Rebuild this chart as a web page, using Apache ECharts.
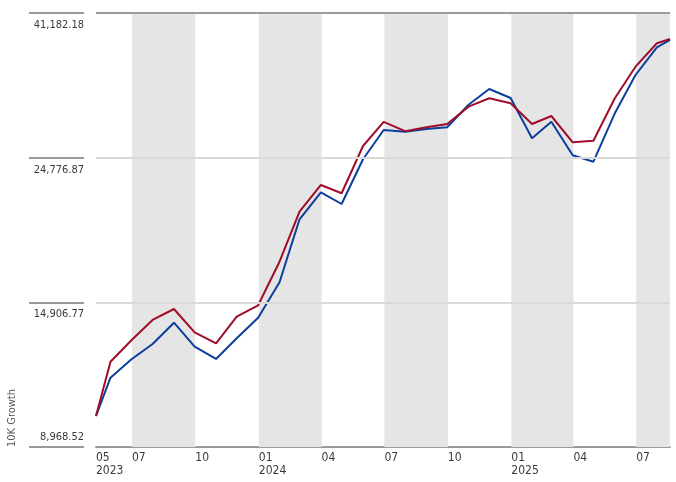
<!DOCTYPE html>
<html>
<head>
<meta charset="utf-8">
<script src="https://cdn.jsdelivr.net/npm/echarts@6/dist/echarts.min.js"></script>
<style>
html,body{margin:0;padding:0;background:#fff;}
#c{width:676px;height:482px;}
</style>
</head>
<body>
<div id="c"></div>
<script>
// ---- data ----
var dates = ['2023-05-10','2023-05-31','2023-06-30','2023-07-31','2023-08-31','2023-09-30','2023-10-31','2023-11-30','2023-12-31',
  '2024-01-31','2024-02-29','2024-03-31','2024-04-30','2024-05-31','2024-06-30','2024-07-31','2024-08-31','2024-09-30','2024-10-31','2024-11-30','2024-12-31',
  '2025-01-31','2025-02-28','2025-03-31','2025-04-30','2025-05-31','2025-06-30','2025-07-31','2025-08-19'];
var fundValues = [10000,12101,13036,14011,14562,13418,12909,14173,14752,17194,20495,22510,21864,25814,28104,27192,27567,27886,29635,30522,29991,27886,28681,26152,26299,30522,34104,37025,37589];
var indexValues = [10000,11440,12195,12878,13878,12756,12217,13138,14124,15994,19955,21940,21056,24636,27306,27143,27402,27567,29842,31535,30555,26522,28113,24984,24428,28955,33123,36507,37458];
var yTickValues = [8968.52, 14906.77, 24776.87, 41182.18];
var yTickLabels = ['8,968.52', '14,906.77', '24,776.87', '41,182.18'];
var xTickDates = ['2023-05-10','2023-07-01','2023-10-01','2024-01-01','2024-04-01','2024-07-01','2024-10-01','2025-01-01','2025-04-01','2025-07-01'];
var xTickLabels = ['05\n2023','07','10','01\n2024','04','07','10','01\n2025','04','07'];
var shadedRanges = [['2023-07-01','2023-10-01'],['2024-01-01','2024-04-01'],['2024-07-01','2024-10-01'],['2025-01-01','2025-04-01'],['2025-07-01','2025-08-19']];
var xMin = '2023-05-10', xMax = '2025-08-19';

var FONT = "'Liberation Sans Narrow','DejaVu Sans Condensed','Roboto',sans-serif";

function ts(s){ var p = s.split('-'); return Date.UTC(+p[0], +p[1]-1, +p[2]); }
var xTickTs = xTickDates.map(ts);

function zip(d, v){ return d.map(function(x,i){ return [ts(x), v[i]]; }); }

var chart = echarts.init(document.getElementById('c'), null, {renderer:'canvas'});
chart.setOption({
  animation:false,
  backgroundColor:'#fff',
  grid:{left:96, right:6, top:13, bottom:35, containLabel:false, outerBoundsMode:'none'},
  xAxis:{
    type:'value', min:ts(xMin), max:ts(xMax), scale:true,
    axisLine:{show:true, onZero:false, lineStyle:{color:'#9b9b9b', width:2}},
    axisTick:{show:false},
    splitLine:{show:false},
    axisLabel:{
      customValues:xTickTs,
      align:'left', margin:4, lineHeight:13,
      fontFamily:FONT, fontSize:12, color:'#3a3a3a',
      formatter:function(v){
        var i = xTickTs.indexOf(v);
        if (i < 0) { var bd=Infinity; for (var k=0;k<xTickTs.length;k++){ var d=Math.abs(xTickTs[k]-v); if(d<bd){bd=d;i=k;} } }
        return xTickLabels[i];
      }
    }
  },
  yAxis:{
    type:'log', min:yTickValues[0], max:yTickValues[yTickValues.length-1],
    offset:12,
    axisLine:{show:false},
    splitLine:{show:false},
    axisTick:{show:true, customValues:yTickValues, length:55, lineStyle:{color:'#9b9b9b', width:2}},
    axisLabel:{
      customValues:yTickValues,
      margin:0, verticalAlign:'middle',
      formatter:function(v){
        var best = 0, bd = Infinity;
        for (var i=0;i<yTickValues.length;i++){ var d=Math.abs(yTickValues[i]-v); if(d<bd){bd=d;best=i;} }
        return best === 0 ? '{b|' + yTickLabels[best] + '}' : '{a|' + yTickLabels[best] + '}';
      },
      rich:{
        a:{fontFamily:FONT, fontSize:11, color:'#3a3a3a', padding:[24,0,0,0], lineHeight:14},
        b:{fontFamily:FONT, fontSize:11, color:'#3a3a3a', padding:[0,0,20,0], lineHeight:14}
      }
    }
  },
  graphic:[{
    type:'text', x:12, y:447, rotation:Math.PI/2,
    style:{text:'10K Growth', fontFamily:FONT, fontSize:11, fill:'#555', align:'left', verticalAlign:'middle'}
  }],
  series:[
    {
      name:'bands', type:'line', data:[], z:1, silent:true,
      markArea:{silent:true, itemStyle:{color:'#e5e5e5'},
        data: shadedRanges.map(function(r){ return [{xAxis:ts(r[0])},{xAxis:ts(r[1])}]; })}
    },
    {
      name:'grid', type:'line', data:[], z:2, silent:true,
      markLine:{silent:true, symbol:'none', label:{show:false},
        data:[
          {yAxis:yTickValues[1], lineStyle:{color:'#d9d9d9', width:2, type:'solid'}},
          {yAxis:yTickValues[2], lineStyle:{color:'#d9d9d9', width:2, type:'solid'}},
          {yAxis:yTickValues[3], lineStyle:{color:'#9b9b9b', width:2, type:'solid'}}
        ]}
    },
    {
      name:'Index', type:'line', z:3, data:zip(dates, indexValues), showSymbol:false, symbol:'none',
      lineStyle:{color:'#0b3f9c', width:2}
    },
    {
      name:'Fund', type:'line', z:4, data:zip(dates, fundValues), showSymbol:false, symbol:'none',
      lineStyle:{color:'#a00d2a', width:2}
    }
  ]
});
</script>
</body>
</html>
